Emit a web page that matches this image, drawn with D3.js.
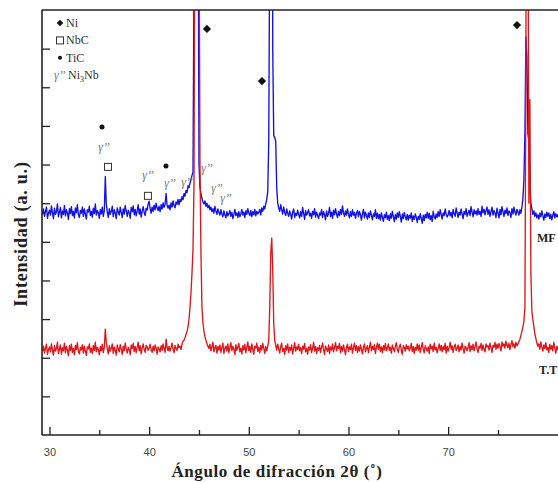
<!DOCTYPE html>
<html><head><meta charset="utf-8">
<script src="https://cdn.jsdelivr.net/npm/d3@7"></script>
<style>body{margin:0;background:#fff}svg{display:block}</style>
</head><body><svg id="c" width="558" height="482"></svg>
<script>
// ---- data (2θ scan, start 29.3°, step 0.1°) ----
const scanStart = 29.3, scanStep = 0.1;
const mfIntensity = [
572,585,566,579,590,561,574,
582,569,593,575,560,587,571,578,598,565,
576,589,562,580,571,594,567,583,574,558,
586,573,591,568,579,562,588,575,596,570,
563,581,574,590,566,585,572,559,583,577,
592,568,579,564,587,573,598,569,581,575,
561,584,572,590,566,580,669,598,576,563,
586,571,579,592,565,583,574,560,588,577,
569,590,576,563,585,572,594,579,566,582,
575,561,589,578,593,570,584,567,580,596,
572,585,564,579,591,576,568,587,582,598,
605,586,574,590,579,595,583,600,588,581,
592,578,596,585,601,589,598,625,594,587,
595,583,601,590,606,594,588,603,597,610,
596,610,604,617,609,625,618,633,627,645,
640,652,661,672,680,1200,3000,3000,3000,1500,
700,640,625,612,603,598,606,592,600,588,
595,583,590,578,586,574,592,580,571,585,
576,569,583,572,565,580,570,562,578,567,
573,581,566,576,560,571,584,568,575,563,
578,565,572,584,569,577,563,580,571,586,
574,568,581,565,578,570,584,567,579,572,
576,584,570,588,579,592,585,598,610,630,
760,1300,3000,3000,1000,775,770,760,640,600,
588,579,596,583,572,590,576,568,585,574,
566,580,571,559,577,585,563,574,568,582,
571,562,578,566,589,573,558,581,569,576,
583,567,574,561,579,570,586,564,577,568,
560,575,569,584,563,578,571,557,580,566,
574,589,565,577,561,582,570,586,572,563,
579,568,584,571,593,575,566,580,569,585,
571,562,578,566,583,569,576,561,574,581,
565,579,570,556,573,584,562,577,568,559,
575,563,580,569,557,572,566,583,561,574,
560,571,556,575,564,553,570,562,577,558,
568,555,573,561,579,566,552,570,559,575,
563,578,566,551,572,560,576,565,557,571,
556,569,561,575,553,567,558,572,564,550,
566,558,573,560,548,569,555,571,562,576,
561,574,557,568,553,579,565,559,572,563,
578,566,583,570,559,575,568,585,572,564,
570,581,567,576,562,584,573,566,588,575,
563,577,569,585,572,560,579,571,586,566,
574,582,568,591,577,565,583,572,580,569,
586,571,579,566,592,575,584,570,581,590,
571,583,566,578,590,569,581,574,563,587,
575,562,584,570,591,578,566,582,573,588,
568,580,575,563,586,572,590,577,569,584,
578,569,583,574,590,612,660,780,1030,980,
780,760,650,600,585,571,580,566,575,562,
570,559,574,565,580,568,556,572,563,577,
566,575,560,571,557,569,578,562,573,565,
570,558,574,563,568,556
];
const ttIntensity = [
218,230,212,225,235,208,221,
228,215,236,220,207,231,217,224,240,211,
222,233,209,226,218,238,213,229,220,205,
231,219,235,214,224,208,232,221,239,216,
210,227,220,234,212,230,218,206,228,223,
236,214,225,211,232,219,240,215,227,221,
208,229,218,235,213,226,274,240,222,210,
231,217,225,236,211,228,220,207,233,223,
215,234,222,209,230,218,238,224,212,227,
221,208,233,224,237,216,229,213,226,240,
218,231,210,225,236,221,214,232,228,219,
226,235,220,214,230,218,233,225,209,228,
222,215,231,219,236,224,214,248,227,218,
230,217,226,238,221,213,232,224,219,235,
226,230,221,236,243,245,252,260,268,280,
300,330,370,420,480,650,1500,3000,3000,2500,
1400,700,470,330,290,268,255,245,236,230,
224,235,218,228,240,215,226,232,212,229,
220,233,214,227,238,211,224,230,217,236,
213,226,239,218,230,222,208,234,219,228,
237,215,225,210,231,220,235,213,227,241,
218,229,214,236,222,209,230,225,238,216,
227,213,232,220,237,224,211,229,218,230,
245,330,470,510,430,290,245,232,220,235,
223,212,229,238,216,225,209,231,220,236,
214,227,219,233,210,224,239,217,228,221,
235,218,226,211,230,222,237,215,224,209,
228,220,234,213,225,240,217,229,211,226,
219,232,214,227,238,221,209,230,223,216,
233,211,228,220,236,215,226,239,218,230,
224,237,213,229,217,233,220,208,227,235,
216,228,221,235,212,226,238,219,231,214,
229,217,233,222,210,227,236,215,224,231,
213,226,240,218,229,221,234,211,227,238,
222,235,216,228,213,231,220,237,218,225,
236,219,227,212,233,224,215,230,239,221,
214,228,235,220,209,231,226,217,234,223,
230,218,225,237,216,229,211,227,220,236,
219,233,214,226,239,222,213,231,224,217,
228,211,235,223,230,216,238,220,227,213,
224,236,219,232,215,229,221,237,212,230,
217,226,240,222,231,214,228,235,219,225,
233,215,229,220,238,224,212,230,226,218,
227,239,216,231,221,235,218,228,241,223,
214,230,225,237,219,233,222,215,236,228,
231,220,238,226,214,232,227,240,222,235,
224,237,229,218,241,230,236,225,243,232,
226,238,221,233,244,229,236,225,240,231,
235,242,248,258,268,280,295,330,900,3000,
1500,600,868,420,320,300,280,262,250,238,
230,236,222,241,228,217,233,224,239,220,
227,214,235,222,231,218,240,225,212,229,
221,234,216,228,237,219
];
const xTicksMajor = [30, 40, 50, 60, 70];
const xTicksMinor = [35, 45, 55, 65, 75];
const yTicks = [100, 200, 300, 400, 500, 600, 700, 800, 900, 1000];
const legendSymbols = ["diamond", "square", "circle", "gamma"];
const legendLabels = ["Ni", "NbC", "TiC", "Ni"];
const peakMarkers = [
  {sym: "circle",  t: 35.27, v: 797},
  {sym: "gamma",   t: 35.47, v: 745},
  {sym: "square",  t: 35.87, v: 694},
  {sym: "gamma",   t: 39.88, v: 673},
  {sym: "square",  t: 39.88, v: 619},
  {sym: "circle",  t: 41.69, v: 696},
  {sym: "gamma",   t: 42.09, v: 652},
  {sym: "gamma",   t: 43.80, v: 655},
  {sym: "gamma",   t: 45.80, v: 691},
  {sym: "gamma",   t: 46.80, v: 639},
  {sym: "gamma",   t: 47.70, v: 613},
  {sym: "diamond", t: 45.80, v: 1051},
  {sym: "diamond", t: 51.32, v: 916},
  {sym: "diamond", t: 76.91, v: 1061}
];
const seriesNames = ["MF", "T.T"];
const seriesNamePos = [{t: 78.92, v: 500}, {t: 79.12, v: 158}];

// ---- drawing ----
const svg = d3.select("#c");
const serif = "'Liberation Serif','Times New Roman',serif";
const plotLeft = 42, plotTop = 10, plotBottom = 435;
const x = d3.scaleLinear().domain([29.25, 85]).range([plotLeft, plotLeft + (85 - 29.25) * 9.967]);
const y = d3.scaleLinear().domain([0, 1100]).range([plotBottom, plotTop]);

svg.append("defs").append("clipPath").attr("id", "clip")
  .append("rect").attr("x", plotLeft).attr("y", plotTop).attr("width", 700).attr("height", plotBottom - plotTop);

const line = d3.line()
  .x((d, i) => x(scanStart + i * scanStep))
  .y(d => y(d));

const plot = svg.append("g").attr("clip-path", "url(#clip)");
plot.append("path").datum(mfIntensity).attr("d", line)
  .attr("fill", "none").attr("stroke", "#1010e8").attr("stroke-width", 1.35).attr("stroke-linejoin", "round");
plot.append("path").datum(ttIntensity).attr("d", line)
  .attr("fill", "none").attr("stroke", "#e0161a").attr("stroke-width", 1.35).attr("stroke-linejoin", "round");

// axes
const gx = svg.append("g").attr("transform", `translate(0,${plotBottom})`)
  .call(d3.axisBottom(x).tickValues(xTicksMajor).tickSize(-8).tickPadding(13).tickFormat(d3.format("d")));
const gxm = svg.append("g").attr("transform", `translate(0,${plotBottom})`)
  .call(d3.axisBottom(x).tickValues(xTicksMinor).tickSize(-5).tickFormat(""));
const gy = svg.append("g").attr("transform", `translate(${plotLeft},0)`)
  .call(d3.axisLeft(y).tickValues(yTicks).tickSize(-8).tickFormat(""));
[gx, gxm, gy].forEach(g => {
  g.select(".domain").remove();
  g.selectAll(".tick line").attr("stroke", "#222").attr("stroke-width", 1.3);
});
gx.selectAll(".tick text").attr("font-family", "'Liberation Sans',Arial,sans-serif")
  .attr("font-size", 11).attr("fill", "#444");

// frame
svg.append("line").attr("x1", plotLeft).attr("x2", 558).attr("y1", plotTop).attr("y2", plotTop).attr("stroke", "#222").attr("stroke-width", 1.6);
svg.append("line").attr("x1", plotLeft).attr("x2", plotLeft).attr("y1", plotTop).attr("y2", plotBottom).attr("stroke", "#222").attr("stroke-width", 1.6);
svg.append("line").attr("x1", plotLeft).attr("x2", 558).attr("y1", plotBottom).attr("y2", plotBottom).attr("stroke", "#222").attr("stroke-width", 1.6);

// axis titles
svg.append("text").attr("x", 277).attr("y", 477).attr("text-anchor", "middle")
  .attr("font-family", serif).attr("font-weight", "bold").attr("font-size", 17).attr("letter-spacing", 0.6).attr("fill", "#222")
  .text("Ángulo de difracción 2θ (˚)");
svg.append("text").attr("transform", "translate(27,234) rotate(-90)").attr("text-anchor", "middle")
  .attr("font-family", serif).attr("font-weight", "bold").attr("font-size", 18).attr("letter-spacing", 0.8).attr("fill", "#222")
  .text("Intensidad (a. u.)");

// symbol drawer
function drawSym(g, sym, cx, cy, scale) {
  const k = scale || 1;
  if (sym === "diamond") {
    g.append("path").attr("d", d3.symbol(d3.symbolSquare, 34 * k * k)())
      .attr("transform", `translate(${cx},${cy}) rotate(45)`).attr("fill", "#111");
  } else if (sym === "square") {
    g.append("rect").attr("x", cx - 3.5).attr("y", cy - 3.5).attr("width", 7).attr("height", 7)
      .attr("fill", "none").attr("stroke", "#333").attr("stroke-width", 1);
  } else if (sym === "circle") {
    g.append("circle").attr("cx", cx).attr("cy", cy).attr("r", 2.5 * k).attr("fill", "#111");
  } else if (sym === "gamma") {
    g.append("text").attr("x", cx).attr("y", cy + 4).attr("text-anchor", "middle")
      .attr("font-family", serif).attr("font-style", "italic").attr("font-size", 12).attr("fill", "#777")
      .text("γ’’");
  }
}

// legend
const lg = svg.append("g");
legendSymbols.forEach((s, i) => {
  const cy = 23 + i * 17.4;
  if (s === "gamma") {
    lg.append("text").attr("x", 54).attr("y", cy + 4).attr("font-family", serif).attr("font-style", "italic")
      .attr("font-size", 12).attr("fill", "#777").text("γ’’");
  } else {
    drawSym(lg, s, 60, cy, 0.8);
  }
  const t = lg.append("text").attr("x", s === "gamma" ? 68 : 66).attr("y", cy + 4).attr("font-family", serif)
    .attr("font-size", 12).attr("fill", "#333");
  t.append("tspan").text(legendLabels[i]);
  if (s === "gamma") {
    t.append("tspan").attr("font-size", 8).attr("dy", 3).text("3");
    t.append("tspan").attr("dy", -3).text("Nb");
  }
});

// peak markers
const mg = svg.append("g");
peakMarkers.forEach(m => drawSym(mg, m.sym, x(m.t), y(m.v)));

// series names
seriesNames.forEach((n, i) => {
  svg.append("text").attr("x", x(seriesNamePos[i].t)).attr("y", y(seriesNamePos[i].v))
    .attr("font-family", serif).attr("font-weight", "bold").attr("font-size", 12).attr("fill", "#222").text(n);
});
</script>
</body></html>
